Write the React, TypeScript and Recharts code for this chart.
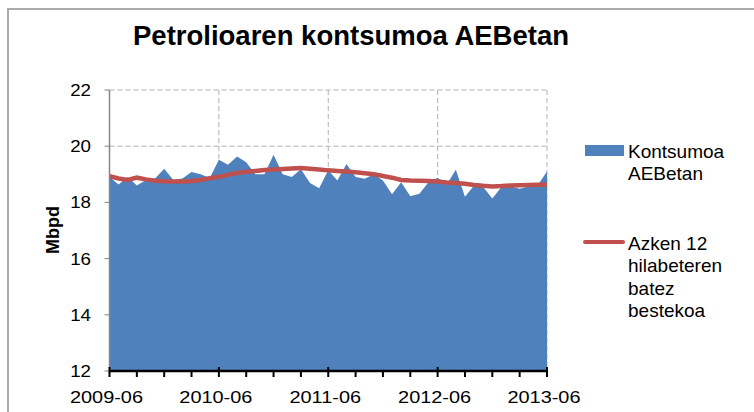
import { ComposedChart, Area, Line, XAxis, YAxis, CartesianGrid } from 'recharts'

// monthly categories, 2009-06 .. 2013-06
const months: string[] = []
for (let y = 2009, m = 6; y < 2013 || (y === 2013 && m <= 6); m++) {
  if (m > 12) { m = 1; y++ }
  months.push(`${y}-${String(m).padStart(2, '0')}`)
}

// US oil consumption, million barrels per day
const consumption = [
  18.90, 18.64, 18.90, 18.60, 18.80, 18.85, 19.20, 18.80, 18.85, 19.08, 19.00, 18.87,
  19.52, 19.34, 19.63, 19.43, 19.00, 19.00, 19.70, 19.00, 18.90, 19.18, 18.69, 18.50,
  19.14, 18.78, 19.37, 18.90, 18.84, 19.00, 18.78, 18.29, 18.72, 18.22, 18.31, 18.72,
  18.88, 18.64, 19.16, 18.20, 18.60, 18.55, 18.14, 18.55, 18.57, 18.49, 18.57, 18.62,
  19.10,
]

// 12 month average
const average12 = [
  18.93, 18.85, 18.80, 18.88, 18.82, 18.77, 18.75, 18.74, 18.74, 18.76, 18.80, 18.86,
  18.91, 18.98, 19.05, 19.09, 19.12, 19.15, 19.17, 19.19, 19.21, 19.22, 19.20, 19.17,
  19.14, 19.12, 19.10, 19.07, 19.04, 19.00, 18.94, 18.88, 18.80, 18.78, 18.77, 18.76,
  18.74, 18.71, 18.69, 18.66, 18.62, 18.59, 18.57, 18.58, 18.60, 18.61, 18.62, 18.63,
  18.63,
]

const yTicks = [12, 14, 16, 18, 20, 22]
const xTicks = months.filter((_, i) => i % 3 === 0)
const yearTicks = ['2010-06', '2011-06', '2012-06', '2013-06']

const data = months.map((month, i) => ({
  month,
  kontsumoa: consumption[i],
  batezbestekoa: average12[i],
}))

const FONT = '"Liberation Sans", Arial, sans-serif'
const BLUE = '#4f81bd'
const RED = '#c0504d'
const GRID = '#b3b3b3'

const XTick = (props: any) => {
  const { x, y, payload } = props
  const major = String(payload.value).endsWith('-06')
  return (
    <g>
      <line x1={x} x2={x} y1={major ? y - 4 : y} y2={y + 6} stroke="#000" strokeWidth={2} />
      {major && (
        <text
          transform={`translate(${x - 3},${y + 32}) scale(1.17,1)`}
          textAnchor="middle"
          fontSize={17}
          fontFamily={FONT}
          fill="#000"
        >
          {payload.value}
        </text>
      )}
    </g>
  )
}

const YTick = (props: any) => {
  const { x, y, payload } = props
  return (
    <text
      transform={`translate(${x},${y + 6}) scale(1.17,1)`}
      textAnchor="end"
      fontSize={16}
      fontFamily={FONT}
      fill="#000"
    >
      {payload.value}
    </text>
  )
}

const legendText = { position: 'absolute' as const, left: 628, fontSize: 19, lineHeight: '22.4px', fontFamily: FONT, color: '#000', whiteSpace: 'nowrap' as const }

const ChartLegend = () => (
  <>
    <div style={{ position: 'absolute', left: 585, top: 145, width: 39, height: 11, background: BLUE }} />
    <div style={{ ...legendText, top: 141 }}>Kontsumoa<br />AEBetan</div>
    <div style={{ position: 'absolute', left: 583, top: 240, width: 42, height: 4, background: RED, borderRadius: 2 }} />
    <div style={{ ...legendText, top: 233 }}>Azken 12<br />hilabeteren<br />batez<br />bestekoa</div>
  </>
)

export default function App() {
  return (
    <div style={{ position: 'absolute', left: 0, top: 0, width: 754, height: 412, overflow: 'hidden', background: '#fff', fontFamily: FONT }}>
      <div style={{ position: 'absolute', left: 7, top: 8, width: 800, height: 500, borderLeft: '2px solid #ababab', borderTop: '2px solid #ababab', boxSizing: 'border-box' }} />
      <div style={{ position: 'absolute', left: 133, top: 22, fontSize: 27.5, lineHeight: '27px', fontWeight: 'bold', whiteSpace: 'nowrap' }}>
        Petrolioaren kontsumoa AEBetan
      </div>
      <div style={{ position: 'absolute', left: 53, top: 230, transform: 'translate(-50%,-50%) rotate(-90deg)', fontSize: 18, fontWeight: 'bold', lineHeight: '18px' }}>
        Mbpd
      </div>
      <div style={{ position: 'absolute', left: 0, top: 0 }}>
        <ComposedChart
          width={754}
          height={412}
          data={data}
          margin={{ top: 90, right: 207, bottom: 1, left: 59.5 }}
        >
          <CartesianGrid xAxisId="grid" stroke={GRID} strokeDasharray="5 3" />
          <XAxis xAxisId="grid" dataKey="month" ticks={yearTicks} interval={0} hide />
          <XAxis
            dataKey="month"
            ticks={xTicks}
            interval={0}
            height={40}
            tickSize={0}
            tickMargin={0}
            tickLine={false}
            axisLine={{ stroke: '#000', strokeWidth: 2.5 }}
            tick={<XTick />}
          />
          <YAxis
            domain={[12, 22]}
            ticks={yTicks}
            width={50}
            tickSize={5}
            tickMargin={13.5}
            axisLine={{ stroke: '#868686', strokeWidth: 1.5 }}
            tickLine={{ stroke: '#868686' }}
            tick={<YTick />}
          />
          <Area
            type="linear"
            dataKey="kontsumoa"
            name="Kontsumoa AEBetan"
            fill={BLUE}
            fillOpacity={1}
            stroke="none"
            isAnimationActive={false}
          />
          <Line
            type="linear"
            dataKey="batezbestekoa"
            name="Azken 12 hilabeteren batez bestekoa"
            stroke={RED}
            strokeWidth={4.5}
            dot={false}
            isAnimationActive={false}
          />
        </ComposedChart>
      </div>
      <ChartLegend />
    </div>
  )
}
